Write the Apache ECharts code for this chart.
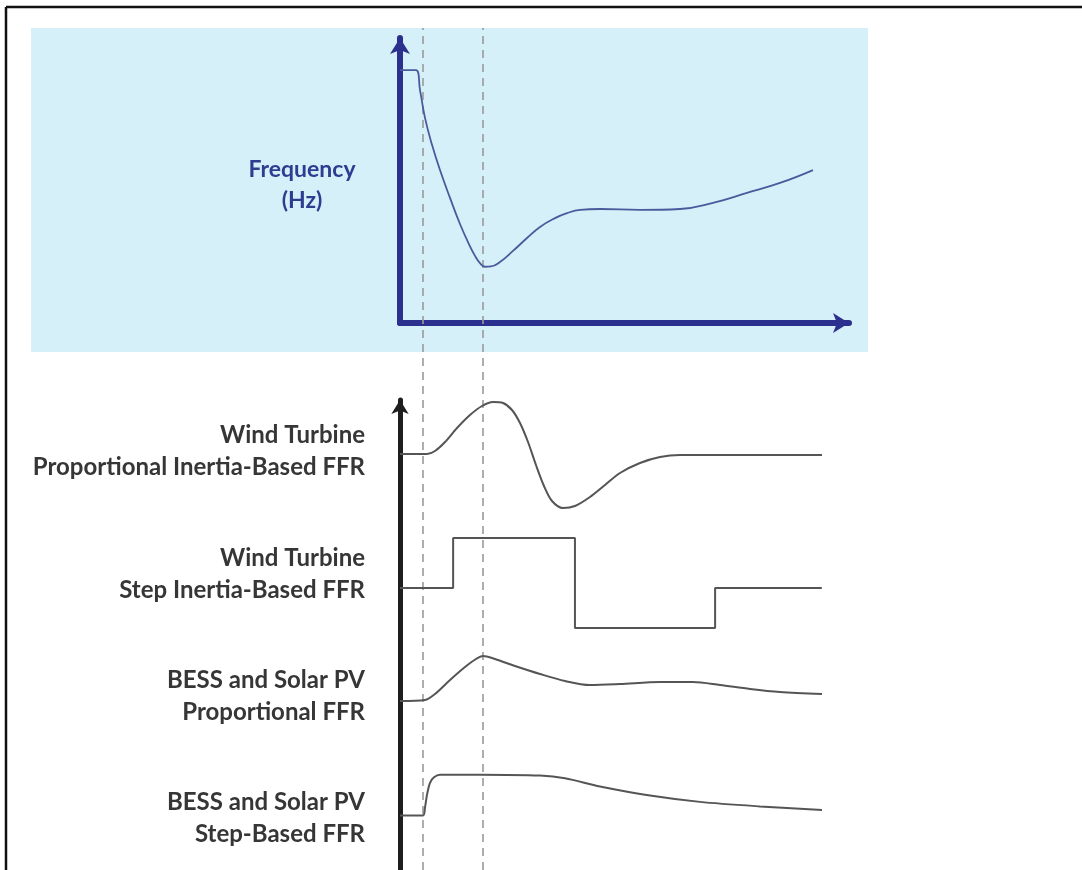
<!DOCTYPE html>
<html>
<head>
<meta charset="utf-8">
<script src="https://cdn.jsdelivr.net/npm/echarts@6/dist/echarts.min.js"></script>
<style>
html,body{margin:0;padding:0;background:#fff;}
#chart{width:1082px;height:870px;}
</style>
</head>
<body>
<div id="chart"></div>
<script>
// ---- Data (time units on a shared 0..100 axis; values relative to each trace's baseline) ----
const frequency = [[0,86.3],[3.49,86.3],[4.37,79.5],[5.46,70.0],[6.99,60.8],[8.73,52.2],[10.92,42.7],[13.10,33.8],[14.85,27.6],[16.38,22.9],[17.47,20.4],[18.56,19.2],[19.87,19.3],[21.83,20.8],[24.67,24.6],[27.73,29.0],[30.57,32.8],[33.84,35.8],[36.46,37.5],[39.30,38.6],[43.67,38.9],[52.40,38.6],[61.14,38.9],[68.34,41.0],[75.76,44.4],[82.97,47.8],[90.17,52.2]];
const windProportional = [[0,0],[5.90,0],[7.64,3],[9.83,12],[12.45,26],[15.28,39],[17.90,48],[20.31,52],[22.49,51],[24.45,44],[26.20,31],[27.95,12],[29.69,-11],[31.44,-32],[33.19,-47],[35.59,-54],[38.21,-52],[41.48,-43],[44.76,-31],[48.03,-19],[52.40,-9],[56.77,-3],[61.14,-1],[92.14,-1]];
const windStep = [[0,0],[11.6,0],[11.6,50],[38.2,50],[38.2,-40],[68.8,-40],[68.8,0],[92.1,0]];
const bessProportional = [[0,0],[5.46,1],[7.64,7],[10.92,21],[14.19,34],[16.59,42],[18.12,45],[20.74,42],[25.11,35],[30.57,27],[36.03,20],[41.48,16],[48.03,17],[56.77,19],[63.97,19],[69.87,16],[76.42,12],[82.97,9],[92.14,7]];
const bessStep = [[0,0],[5.02,0],[5.46,9],[5.90,23],[6.55,36],[7.42,42],[8.73,45],[17.47,45],[30.57,44],[36.03,41],[43.67,32],[54.59,22],[65.50,15],[78.60,10],[92.14,6]];
const eventTimes = [5.0, 18.1];
const rowLabels = [
  ['Wind Turbine','Proportional Inertia-Based FFR'],
  ['Wind Turbine','Step Inertia-Based FFR'],
  ['BESS and Solar PV','Proportional FFR'],
  ['BESS and Solar PV','Step-Based FFR']
];
const freqLabel = ['Frequency','(Hz)'];

// ---- Layout ----
const AX_LEFT = 400, PX_PER_T = 4.58;
const rowBaselines = [454, 588, 701, 821];
const labelCenters = [451, 574, 696, 818];
const rowSeries = [windProportional, windStep, bessProportional, bessStep];

const chart = echarts.init(document.getElementById('chart'), null, {renderer:'canvas'});

const grids = [], xAxes = [], yAxes = [], series = [];

// grid 0: frequency plot
grids.push({left:AX_LEFT, top:38, width:449, height:285, containLabel:false});
xAxes.push({gridIndex:0, type:'value', min:0, max:449/PX_PER_T,
  axisLine:{show:true, onZero:false, lineStyle:{color:'#2b2f8e', width:6}, symbol:['none','arrow'], symbolSize:[15,16]},
  axisTick:{show:false}, axisLabel:{show:false}, splitLine:{show:false}});
yAxes.push({gridIndex:0, type:'value', min:0, max:285/2.93,
  axisLine:{show:true, onZero:false, lineStyle:{color:'#2b2f8e', width:6}, symbol:['none','arrow'], symbolSize:[15,16]},
  axisTick:{show:false}, axisLabel:{show:false}, splitLine:{show:false}});
series.push({type:'line', xAxisIndex:0, yAxisIndex:0, data:frequency, smooth:0.45,
  showSymbol:false, lineStyle:{color:'#4a5b9c', width:1.8}, z:5});

// grid 1: black power axis
grids.push({left:AX_LEFT, top:400, width:458, bottom:0});
xAxes.push({gridIndex:1, type:'value', min:0, max:100, show:false});
yAxes.push({gridIndex:1, type:'value', min:0, max:100,
  axisLine:{show:true, onZero:false, lineStyle:{color:'#1e1e1e', width:5}, symbol:['none','arrow'], symbolSize:[13,14]},
  axisTick:{show:false}, axisLabel:{show:false}, splitLine:{show:false}});

// grid 2: dashed event lines overlay
grids.push({left:AX_LEFT, top:28, width:458, bottom:0});
xAxes.push({gridIndex:2, type:'value', min:0, max:100, show:false});
yAxes.push({gridIndex:2, type:'value', min:0, max:100, show:false});
series.push({type:'line', xAxisIndex:2, yAxisIndex:2, data:[], z:1,
  markLine:{silent:true, symbol:['none','none'], label:{show:false},
    lineStyle:{color:'#9a9a9a', width:1.6, type:[8,6]},
    data: eventTimes.map(t=>({xAxis:t}))}});

// grids 3..6: response rows
rowSeries.forEach((d,i)=>{
  const gi = grids.length;
  grids.push({left:AX_LEFT, top:rowBaselines[i]-60, width:458, height:120});
  xAxes.push({gridIndex:gi, type:'value', min:0, max:100, show:false});
  yAxes.push({gridIndex:gi, type:'value', min:-60, max:60, show:false});
  series.push({type:'line', xAxisIndex:gi, yAxisIndex:gi, data:d, clip:false,
    smooth: i===1 ? false : 0.3, showSymbol:false,
    lineStyle:{color:'#555555', width:2}, z:5});
});

const FREQ_FONT = 'bold 23px Lato';
const FONT = 'bold 24px Lato';
const graphic = [
  {type:'rect', z:-10, shape:{x:31, y:28, width:837, height:324}, style:{fill:'#d6f0fa'}},
  {type:'line', z:10, shape:{x1:6, y1:7, x2:1082, y2:7}, style:{stroke:'#111', lineWidth:2.5}},
  {type:'line', z:10, shape:{x1:6, y1:7, x2:6, y2:870}, style:{stroke:'#111', lineWidth:2.5}},
  {type:'text', z:10, x:302, y:170, style:{text:freqLabel[0], fill:'#2e3d8f', font:FREQ_FONT, align:'center', verticalAlign:'middle'}},
  {type:'text', z:10, x:302, y:201, style:{text:freqLabel[1], fill:'#2e3d8f', font:FREQ_FONT, align:'center', verticalAlign:'middle'}}
];
rowLabels.forEach((lines,i)=>{
  graphic.push({type:'text', z:10, x:365, y:labelCenters[i]-16, style:{text:lines[0], fill:'#363636', font:FONT, align:'right', verticalAlign:'middle'}});
  graphic.push({type:'text', z:10, x:365, y:labelCenters[i]+16, style:{text:lines[1], fill:'#363636', font:FONT, align:'right', verticalAlign:'middle'}});
});

chart.setOption({
  animation:false,
  backgroundColor:'#ffffff',
  grid:grids, xAxis:xAxes, yAxis:yAxes, series:series, graphic:graphic
});
</script>
</body>
</html>
